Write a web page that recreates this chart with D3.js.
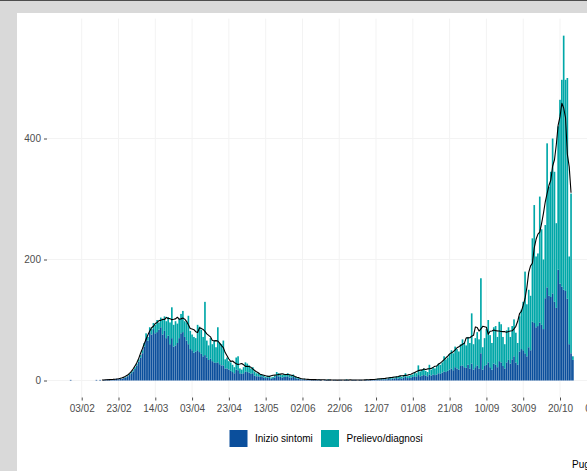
<!DOCTYPE html>
<html>
<head>
<meta charset="utf-8">
<script src="https://cdn.jsdelivr.net/npm/d3@7"></script>
<style>
  html, body { margin: 0; padding: 0; background: #d9d9d9; overflow: hidden; }
  svg { display: block; font-family: "Liberation Sans", Arial, sans-serif; }
</style>
</head>
<body>
<svg id="chart" width="587" height="471"></svg>
<script>
// daily cases, one row per month, first value is 28/01
const firstDay = '2020-01-28'
const sintomi = [
  1, 0, 0, 0,
  0, 0, 0, 0, 0, 0, 0, 0, 0, 0, 1, 0, 1, 0, 1, 1, 2, 1, 2, 1, 2, 3, 2, 3, 3, 4, 5, 7, 9,
  12, 15, 19, 25, 31, 38, 45, 56, 70, 66, 80, 76, 85, 78, 80, 84, 88, 76, 82, 70, 74, 60, 70, 56, 58, 62, 70, 78, 80, 72, 66,
  60, 52, 50, 46, 48, 50, 47, 44, 40, 42, 38, 34, 36, 32, 30, 29, 30, 27, 25, 25, 20, 20, 18, 16, 14, 12, 18, 17, 12, 11,
  12, 15, 14, 13, 11, 12, 8, 7, 7, 6, 7, 5, 4, 5, 4, 3, 4, 5, 8, 7, 6, 5, 6, 6, 7, 5, 5, 6, 4, 3, 3,
  2, 2, 2, 1, 1, 2, 1, 1, 1, 1, 1, 1, 0, 1, 1, 1, 1, 0, 1, 1, 0, 1, 1, 0, 1, 1, 1, 0, 1, 1,
  1, 0, 1, 1, 0, 1, 1, 1, 1, 1, 1, 1, 2, 1, 2, 2, 2, 2, 3, 2, 3, 3, 4, 3, 4, 3, 5, 6, 4, 4, 5,
  6, 7, 6, 9, 7, 8, 9, 8, 7, 10, 8, 10, 9, 10, 12, 11, 13, 15, 14, 16, 18, 20, 17, 22, 20, 18, 24, 25, 22, 21, 26,
  20, 28, 18, 22, 25, 20, 45, 18, 24, 26, 30, 22, 18, 28, 26, 22, 32, 30, 24, 20, 30, 34, 28, 35, 40, 30, 26, 48, 52, 50,
  45, 40, 55, 50, 97, 95, 88, 90, 96, 92, 85, 136, 154, 140, 138, 144, 130, 120, 183, 160, 155, 150, 148, 135, 60, 45, 34
]
const prelievo = [
  0, 0, 0, 0,
  0, 0, 0, 0, 0, 0, 0, 0, 0, 0, 0, 0, 0, 0, 0, 0, 0, 0, 0, 0, 0, 0, 0, 1, 0, 1, 1, 1, 2,
  2, 2, 3, 3, 4, 4, 5, 6, 8, 6, 8, 9, 10, 14, 20, 12, 16, 24, 24, 28, 31, 36, 51, 36, 40, 32, 32, 32, 35, 26, 30,
  47, 30, 26, 26, 22, 42, 42, 40, 32, 88, 28, 24, 34, 28, 36, 26, 58, 35, 35, 41, 15, 18, 14, 14, 12, 10, 20, 23, 8, 7,
  10, 15, 14, 12, 9, 10, 7, 5, 5, 4, 3, 3, 2, 3, 3, 2, 2, 3, 6, 5, 4, 4, 5, 4, 5, 4, 3, 4, 2, 2, 1,
  1, 0, 1, 0, 1, 0, 0, 1, 0, 0, 1, 0, 0, 0, 0, 1, 0, 0, 0, 0, 0, 0, 0, 0, 0, 1, 0, 0, 0, 0,
  0, 0, 0, 0, 0, 0, 1, 0, 0, 1, 0, 1, 1, 1, 2, 1, 2, 1, 2, 2, 3, 2, 3, 3, 4, 3, 4, 6, 3, 4, 4,
  4, 7, 6, 16, 8, 10, 11, 8, 7, 16, 10, 12, 11, 14, 16, 15, 17, 25, 21, 22, 26, 30, 28, 34, 32, 30, 36, 43, 40, 37, 46,
  42, 83, 42, 48, 55, 48, 124, 37, 46, 59, 70, 53, 44, 60, 64, 50, 65, 63, 48, 40, 53, 54, 44, 55, 61, 49, 36, 58, 65, 80,
  135, 86, 95, 90, 138, 195, 117, 120, 208, 158, 115, 121, 238, 180, 207, 256, 215, 140, 237, 304, 342, 420, 349, 365, 145, 264, 6
]
const xTickLabels = ['03/02', '23/02', '14/03', '03/04', '23/04', '13/05', '02/06', '22/06',
  '12/07', '01/08', '21/08', '10/09', '30/09', '20/10', '09/11']
const yTicks = [0, 200, 400]
const seriesNames = ['Inizio sintomi', 'Prelievo/diagnosi']
const lineSpan = ['2020-02-14', '2020-10-26']
const caption = 'Puglia'

const colors = ['#0b4f9c', '#00a7a8']
const W = 587
const H = 471

const svg = d3.select('#chart')
const parseDay = d3.utcParse('%Y-%m-%d')
const parseTick = d3.utcParse('%d/%m/%Y')
const start = parseDay(firstDay)

const rows = sintomi.map((v, i) => ({
  date: d3.utcDay.offset(start, i),
  sintomi: v,
  prelievo: prelievo[i],
}))

// centered 7 day mean of the total, window clipped at the ends
const totals = rows.map(r => r.sintomi + r.prelievo)
const [lineFrom, lineTo] = lineSpan.map(parseDay)
const avg = rows.map((r, i) => ({
  date: r.date,
  value: d3.mean(totals.slice(Math.max(0, i - 3), i + 4)),
})).filter(d => d.date >= lineFrom && d.date <= lineTo)

const tickDates = xTickLabels.map(t => parseTick(t + '/2020'))

// screen frame
svg.append('rect').attr('width', W).attr('height', H).attr('fill', '#d9d9d9')
svg.append('rect').attr('width', W).attr('height', 1).attr('fill', '#4d4d4d')
svg.append('rect').attr('x', 17).attr('y', 13).attr('width', W - 17).attr('height', H - 13).attr('fill', '#fff')

const panel = {left: 47, right: W + 40, top: 18.6, bottom: 397.5}

const x = d3.scaleUtc()
  .domain([parseTick('03/02/2020'), parseTick('20/10/2020')])
  .range([81.7, 560])
const y = d3.scaleLinear().domain([0, 400]).range([380.5, 138.5])
const dayW = x(d3.utcDay.offset(start, 1)) - x(start)

// grid
const grid = svg.append('g').attr('class', 'grid')
grid.selectAll('line.v').data(tickDates).join('line')
  .attr('class', 'v')
  .attr('x1', d => x(d)).attr('x2', d => x(d))
  .attr('y1', panel.top).attr('y2', panel.bottom)
grid.selectAll('line.h').data(yTicks).join('line')
  .attr('class', 'h')
  .attr('x1', panel.left).attr('x2', panel.right)
  .attr('y1', d => y(d)).attr('y2', d => y(d))
grid.selectAll('line').attr('stroke', '#f3f3f3').attr('stroke-width', 1)

// stacked bars
const stack = d3.stack().keys(['sintomi', 'prelievo'])(rows)
svg.append('g').selectAll('g').data(stack).join('g')
  .attr('fill', (d, i) => colors[i])
  .selectAll('rect').data(d => d.filter(p => p[1] > p[0])).join('rect')
  .attr('x', d => x(d.data.date) - dayW * 0.45)
  .attr('width', dayW * 0.9)
  .attr('y', d => y(d[1]))
  .attr('height', d => y(d[0]) - y(d[1]))

// moving average
svg.append('path').datum(avg)
  .attr('fill', 'none')
  .attr('stroke', '#000')
  .attr('stroke-width', 1.1)
  .attr('stroke-linejoin', 'round')
  .attr('d', d3.line().x(d => x(d.date)).y(d => y(d.value)))

// axes
const xAxis = svg.append('g')
  .attr('transform', `translate(0,${panel.bottom})`)
  .call(d3.axisBottom(x).tickValues(tickDates).tickFormat(d3.utcFormat('%d/%m')).tickSize(3).tickPadding(2))
const yAxis = svg.append('g')
  .attr('transform', `translate(${panel.left},0)`)
  .call(d3.axisLeft(y).tickValues(yTicks).tickSize(3).tickPadding(3))
for (const axis of [xAxis, yAxis]) {
  axis.select('.domain').remove()
  axis.selectAll('line').attr('stroke', '#4d4d4d')
  axis.selectAll('text').attr('fill', '#4d4d4d').style('font-size', '10px')
    .style('font-family', '"Liberation Sans", Arial, sans-serif')
}
xAxis.selectAll('text').attr('dy', '0.95em')

// legend
const legend = svg.append('g')
const legendX = [229.5, 321]
seriesNames.forEach((name, i) => {
  legend.append('rect')
    .attr('x', legendX[i]).attr('y', 430)
    .attr('width', 18).attr('height', 17)
    .attr('fill', colors[i])
  legend.append('text')
    .attr('x', legendX[i] + 25.5).attr('y', 438.5)
    .attr('dy', '0.35em')
    .style('font-size', '10px')
    .text(name)
})

svg.append('text')
  .attr('x', 572).attr('y', 464)
  .attr('dy', '0.35em')
  .style('font-size', '10px')
  .text(caption)
</script>
</body>
</html>
